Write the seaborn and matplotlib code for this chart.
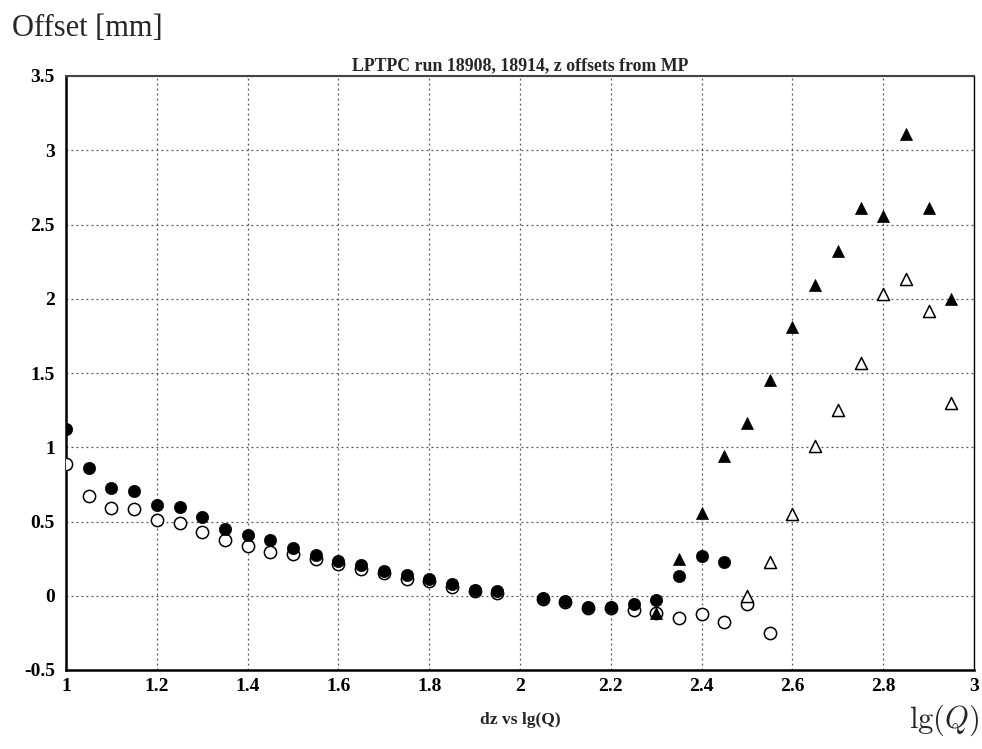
import numpy as np
import pandas as pd
import matplotlib
matplotlib.use("Agg")
import matplotlib.pyplot as plt
import seaborn as sns
from matplotlib.ticker import MultipleLocator

sns.set_style("white")
plt.rcParams['font.family'] = ['Liberation Serif', 'DejaVu Serif']
plt.rcParams['mathtext.fontset'] = 'cm'

# run 18908 / 18914, circles: points along lg(Q) from 1.0 to 2.55
x_circ = [1.0, 1.05, 1.1, 1.15, 1.2, 1.25, 1.3, 1.35, 1.4, 1.45, 1.5, 1.55, 1.6, 1.65,
          1.7, 1.75, 1.8, 1.85, 1.9, 1.95, 2.05, 2.1, 2.15, 2.2, 2.25, 2.3, 2.35, 2.4, 2.45]
dz_full = [1.12, 0.86, 0.725, 0.707, 0.613, 0.597, 0.528, 0.452, 0.409, 0.374, 0.322, 0.275,
           0.237, 0.204, 0.165, 0.138, 0.11, 0.078, 0.042, 0.029, -0.018, -0.033, -0.074,
           -0.074, -0.058, -0.03, 0.13, 0.27, 0.23]

x_open = [1.0, 1.05, 1.1, 1.15, 1.2, 1.25, 1.3, 1.35, 1.4, 1.45, 1.5, 1.55, 1.6, 1.65,
          1.7, 1.75, 1.8, 1.85, 1.9, 1.95, 2.05, 2.1, 2.15, 2.2, 2.25, 2.3, 2.35, 2.4, 2.45,
          2.5, 2.55]
dz_open = [0.888, 0.671, 0.591, 0.582, 0.512, 0.49, 0.427, 0.374, 0.336, 0.295, 0.28, 0.25,
           0.215, 0.18, 0.15, 0.11, 0.10, 0.056, 0.033, 0.016, -0.025, -0.04, -0.083, -0.08,
           -0.096, -0.118, -0.15, -0.12, -0.175, -0.055, -0.25]

# triangles: high-charge tail
x_tri = [2.3, 2.35, 2.4, 2.45, 2.5, 2.55, 2.6, 2.65, 2.7, 2.75, 2.8, 2.85, 2.9, 2.95]
dz_tri = [-0.115, 0.25, 0.56, 0.94, 1.16, 1.45, 1.81, 2.09, 2.32, 2.61, 2.56, 3.11, 2.61, 2.0]

x_tri_open = [2.5, 2.55, 2.6, 2.65, 2.7, 2.75, 2.8, 2.85, 2.9, 2.95]
dz_tri_open = [-0.005, 0.23, 0.55, 1.01, 1.25, 1.57, 2.03, 2.13, 1.92, 1.30]

fig = plt.figure(figsize=(9.82, 7.49), dpi=100)
ax = fig.add_axes([66 / 982, 1 - 670 / 749, (974 - 66) / 982, (670 - 76) / 749])

sns.scatterplot(x=x_open, y=dz_open, ax=ax, marker='o', s=78, facecolor='white',
                edgecolor='black', linewidth=1.1, zorder=3, clip_on=True)
sns.scatterplot(x=x_circ, y=dz_full, ax=ax, marker='o', s=78, color='black',
                edgecolor='black', linewidth=0.5, zorder=4)
sns.scatterplot(x=x_tri_open, y=dz_tri_open, ax=ax, marker='^', s=75, facecolor='white',
                edgecolor='black', linewidth=1.1, zorder=3)
sns.scatterplot(x=x_tri, y=dz_tri, ax=ax, marker='^', s=75, color='black',
                edgecolor='black', linewidth=0.5, zorder=4)

ax.set_xlim(1, 3)
ax.set_ylim(-0.5, 3.5)
ax.xaxis.set_major_locator(MultipleLocator(0.2))
ax.xaxis.set_minor_locator(MultipleLocator(0.05))
ax.yaxis.set_major_locator(MultipleLocator(0.5))
ax.yaxis.set_minor_locator(MultipleLocator(0.1))
ax.xaxis.set_major_formatter(plt.FuncFormatter(lambda v, p: f"{v:g}"))
ax.yaxis.set_major_formatter(plt.FuncFormatter(lambda v, p: f"{v:g}"))

ax.grid(True, which='major', linestyle=(0, (1.5, 2.5)), color='#555555', linewidth=0.9)
ax.tick_params(axis='both', which='both', direction='in', top=False, right=False,
               colors='black')
ax.tick_params(axis='both', which='major', length=9, width=1.2, labelsize=14)
ax.tick_params(axis='x', which='major', pad=6)
ax.tick_params(axis='y', which='major', pad=8)
ax.tick_params(axis='both', which='minor', length=5, width=1.0)
for lab in ax.get_xticklabels() + ax.get_yticklabels():
    lab.set_fontweight('bold')
for side in ['left', 'bottom']:
    ax.spines[side].set_linewidth(1.8)
    ax.spines[side].set_color('black')
ax.spines['top'].set_linewidth(1.5)
ax.spines['top'].set_color('#444444')
ax.spines['right'].set_linewidth(1.0)
ax.spines['right'].set_color('black')

ax.set_title("LPTPC run 18908, 18914, z offsets from MP", fontsize=12.8,
             fontweight='bold', pad=4)
ax.set_xlabel("dz vs lg(Q)", fontsize=12.5, fontweight='bold', labelpad=12)
ax.set_ylabel("")

fig.text(12 / 982, 1 - 28 / 749, "Offset [mm]", fontsize=22, va='center', ha='left')
fig.text(980 / 982, 1 - 720 / 749, r"$\mathrm{lg}(Q)$", fontsize=22, va='center', ha='right')

fig.savefig("out.png", dpi=100)
